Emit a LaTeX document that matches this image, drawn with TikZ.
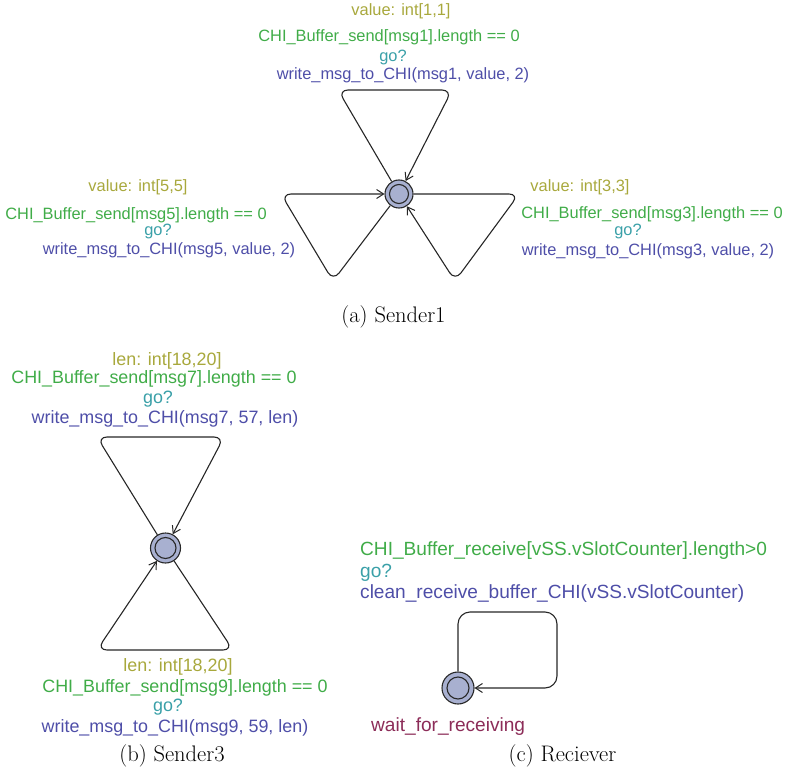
\documentclass[tikz,border=0pt]{standalone}
\usepackage{fontspec}
\newfontfamily\labfont{Liberation Sans}
\usetikzlibrary{arrows.meta}
\definecolor{selcol}{RGB}{168,168,60}
\definecolor{guardcol}{RGB}{64,172,72}
\definecolor{synccol}{RGB}{58,160,168}
\definecolor{updcol}{RGB}{78,78,168}
\definecolor{namecol}{RGB}{140,44,88}
\definecolor{locfill}{RGB}{168,176,208}
\definecolor{locline}{RGB}{40,40,40}
\tikzset{
  loc/.style={circle, draw=locline, fill=locfill, line width=1.1pt, minimum size=#1, inner sep=0pt},
  inner/.style={circle, draw=locline, line width=1.1pt, minimum size=#1, inner sep=0pt},
  edge/.style={draw=black!85, line width=1.1pt, rounded corners=#1, -{Straight Barb[length=7pt,width=9pt,line width=1pt]}},
  edge/.default=10pt,
  lab/.style={inner sep=0pt, anchor=base, font=\labfont\fontsize{#1}{#1}\selectfont},
  lab/.default=16.4,
  sel/.style={lab=#1, text=selcol},
  grd/.style={lab=#1, text=guardcol},
  snc/.style={lab=#1, text=synccol},
  upd/.style={lab=#1, text=updcol},
  sel/.default=16.4, grd/.default=16.4, snc/.default=16.4, upd/.default=16.4,
  figcap/.style={inner sep=0pt, anchor=base, font=\fontsize{22.5}{26}\selectfont}
}
\begin{document}
\begin{tikzpicture}[x=1pt, y=-1pt]
\useasboundingbox (0,0) rectangle (786,775);

% ---------------- Sender1 ----------------
\node[loc=28pt] (s1) at (399,194) {};
\node[inner=19pt] at (s1) {};
\coordinate (s1tl) at (338,90);
\coordinate (s1tr) at (452,90);
\coordinate (s1lb) at (333,281);
\coordinate (s1ll) at (281,194);
\coordinate (s1rr) at (519,194);
\coordinate (s1rb) at (455,281);
\draw[edge] (s1) -- (s1tl) -- (s1tr) -- (s1);
\draw[edge] (s1) -- (s1lb) -- (s1ll) -- (s1);
\draw[edge] (s1) -- (s1rr) -- (s1rb) -- (s1);

\node[sel] (s1sa) at (401,16) {value: int[1,1]};
\node[grd] (s1ga) at (389,42) {CHI\_Buffer\_send[msg1].length == 0};
\node[snc] (s1ya) at (393,62) {go?};
\node[upd] (s1ua) at (403,80) {write\_msg\_to\_CHI(msg1, value, 2)};

\node[sel] (s1sb) at (138,192) {value: int[5,5]};
\node[grd] (s1gb) at (136,220) {CHI\_Buffer\_send[msg5].length == 0};
\node[snc] (s1yb) at (158,236) {go?};
\node[upd] (s1ub) at (169,255) {write\_msg\_to\_CHI(msg5, value, 2)};

\node[sel] (s1sc) at (580,192) {value: int[3,3]};
\node[grd] (s1gc) at (652,219) {CHI\_Buffer\_send[msg3].length == 0};
\node[snc] (s1yc) at (628,236) {go?};
\node[upd] (s1uc) at (648,256) {write\_msg\_to\_CHI(msg3, value, 2)};

\node[figcap] (capa) at (393.5,322) {(a) Sender1};

% ---------------- Sender3 ----------------
\node[loc=30pt] (s3) at (165.5,548) {};
\node[inner=21pt] at (s3) {};
\coordinate (s3tl) at (97,437);
\coordinate (s3tr) at (224,437);
\coordinate (s3bl) at (97,650);
\coordinate (s3br) at (233,650);
\draw[edge] (s3) -- (s3tl) -- (s3tr) -- (s3);
\draw[edge] (s3) -- (s3br) -- (s3bl) -- (s3);

\node[sel=17.9] (s3sa) at (167,365) {len: int[18,20]};
\node[grd=17.9] (s3ga) at (154,383) {CHI\_Buffer\_send[msg7].length == 0};
\node[snc=17.9] (s3ya) at (158,403) {go?};
\node[upd=17.9] (s3ua) at (165,423) {write\_msg\_to\_CHI(msg7, 57, len)};

\node[sel=17.9] (s3sb) at (178,671) {len: int[18,20]};
\node[grd=17.9] (s3gb) at (185,692) {CHI\_Buffer\_send[msg9].length == 0};
\node[snc=17.9] (s3yb) at (168,711) {go?};
\node[upd=17.9] (s3ub) at (175,732) {write\_msg\_to\_CHI(msg9, 59, len)};

\node[figcap] (capb) at (172,761) {(b) Sender3};

% ---------------- Reciever ----------------
\node[loc=32pt] (rv) at (458,688) {};
\node[inner=22pt] at (rv) {};
\coordinate (rvtl) at (458,612);
\coordinate (rvtr) at (557,612);
\coordinate (rvbr) at (557,688);
\draw[edge=12pt] (rv) -- (rvtl) -- (rvtr) -- (rvbr) -- (rv);

\node[grd=19.1, anchor=base west] (rvg) at (360,555) {CHI\_Buffer\_receive[vSS.vSlotCounter].length>0};
\node[snc=19.1, anchor=base west] (rvy) at (360,577) {go?};
\node[upd=19.1, anchor=base west] (rvu) at (360,598) {clean\_receive\_buffer\_CHI(vSS.vSlotCounter)};
\node[lab=19.1, anchor=base west, text=namecol] (rvn) at (371,731) {wait\_for\_receiving};

\node[figcap] (capc) at (562.5,761) {(c) Reciever};
\end{tikzpicture}
\end{document}
